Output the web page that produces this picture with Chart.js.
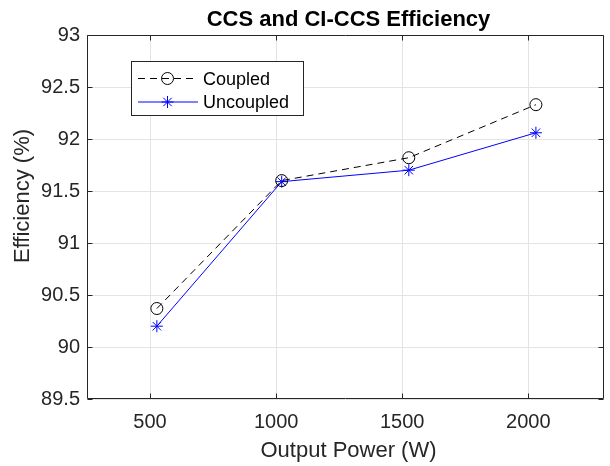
<!DOCTYPE html>
<html><head><meta charset="utf-8">
<script src="https://cdn.jsdelivr.net/npm/chart.js@4/dist/chart.umd.min.js"></script>
<style>html,body{margin:0;padding:0;background:#fff;overflow:hidden}#wrap{width:610px;height:466px;overflow:hidden}</style>
</head><body><div id="wrap"><canvas id="c" width="611" height="466"></canvas></div>
<script>
const xPower = [527, 1022, 1526, 2030];
const coupled = [90.37, 91.60, 91.82, 92.33];
const uncoupled = [90.20, 91.59, 91.70, 92.06];
const xTicks = [500, 1000, 1500, 2000];
const yTicks = [89.5, 90, 90.5, 91, 91.5, 92, 92.5, 93];
const seriesNames = ['Coupled', 'Uncoupled'];
const titleText = 'CCS and CI-CCS Efficiency';
const xTitle = 'Output Power (W)';
const yTitle = 'Efficiency (%)';

const FONT = '"Liberation Sans", Arial, Helvetica, sans-serif';
const AXIS = '#262626';

function drawCircle(ctx, x, y, r, color) {
  ctx.save(); ctx.setLineDash([]); ctx.strokeStyle = color; ctx.lineWidth = 1;
  ctx.beginPath(); ctx.arc(x, y, r, 0, Math.PI * 2); ctx.stroke(); ctx.restore();
}
function drawStar(ctx, x, y, r, color) {
  ctx.save(); ctx.setLineDash([]); ctx.strokeStyle = color; ctx.lineWidth = 1;
  ctx.beginPath();
  for (let k = 0; k < 4; k++) {
    const a = k * Math.PI / 4;
    ctx.moveTo(x - r * Math.cos(a), y - r * Math.sin(a));
    ctx.lineTo(x + r * Math.cos(a), y + r * Math.sin(a));
  }
  ctx.stroke(); ctx.restore();
}

const matlabPlugin = {
  id: 'matlab',
  afterDraw(chart) {
    const ctx = chart.ctx, ca = chart.chartArea;
    const xs = chart.scales.x, ys = chart.scales.y;
    ctx.save();
    ctx.strokeStyle = AXIS; ctx.lineWidth = 1; ctx.setLineDash([]);
    const L = Math.round(ca.left) + 0.5, R = Math.round(ca.right) - 0.5;
    const T = Math.round(ca.top) + 0.5, B = Math.round(ca.bottom) - 0.5;
    ctx.beginPath();
    ctx.moveTo(L, T); ctx.lineTo(R, T); ctx.lineTo(R, B); ctx.lineTo(L, B); ctx.closePath();
    ctx.stroke();
    const tl = 5;
    ctx.beginPath();
    xTicks.forEach(v => {
      const px = Math.round(xs.getPixelForValue(v)) + 0.5;
      ctx.moveTo(px, B); ctx.lineTo(px, B - tl);
      ctx.moveTo(px, T); ctx.lineTo(px, T + tl);
    });
    yTicks.forEach(v => {
      const py = Math.round(ys.getPixelForValue(v)) + 0.5;
      ctx.moveTo(L, py); ctx.lineTo(L + tl, py);
      ctx.moveTo(R, py); ctx.lineTo(R - tl, py);
    });
    ctx.stroke();

    // legend
    const lx = 131.5, ly = 61.5, lw = 172, lh = 54;
    ctx.fillStyle = '#fff'; ctx.fillRect(lx, ly, lw, lh);
    ctx.strokeStyle = AXIS; ctx.strokeRect(lx, ly, lw, lh);
    const rows = [78.5, 102];
    chart.data.datasets.forEach((ds, i) => {
      const y = rows[i];
      ctx.save();
      ctx.strokeStyle = ds.borderColor; ctx.lineWidth = 1;
      ctx.setLineDash(ds.borderDash || []);
      ctx.beginPath(); ctx.moveTo(138, y); ctx.lineTo(198, y); ctx.stroke();
      ctx.restore();
      if (ds.pointStyle === 'circle') drawCircle(ctx, 167.5, y, 6, ds.borderColor);
      else drawStar(ctx, 167.5, y, 6, ds.borderColor);
      ctx.fillStyle = '#000'; ctx.font = '18px ' + FONT;
      ctx.textAlign = 'left'; ctx.textBaseline = 'alphabetic';
      ctx.fillText(ds.label, 203, y + 6);
    });

    // titles
    const cx = (ca.left + 610) / 2;
    ctx.fillStyle = '#000'; ctx.textAlign = 'center'; ctx.textBaseline = 'alphabetic';
    ctx.font = 'bold 22px ' + FONT;
    ctx.fillText(titleText, cx, 26);
    ctx.fillStyle = AXIS;
    ctx.font = '22px ' + FONT;
    ctx.fillText(xTitle, cx, 456.5);
    ctx.save();
    ctx.translate(29, 196);
    ctx.rotate(-Math.PI / 2);
    ctx.fillText(yTitle, 0, 0);
    ctx.restore();
    ctx.restore();
  }
};

new Chart(document.getElementById('c'), {
  type: 'line',
  data: {
    datasets: [
      {
        label: seriesNames[0],
        data: xPower.map((x, i) => ({ x, y: coupled[i] })),
        borderColor: '#000000', borderWidth: 1, borderDash: [7, 5],
        pointStyle: 'circle', pointRadius: 6, pointBorderWidth: 1,
        pointBorderColor: '#000000', pointBackgroundColor: 'rgba(0,0,0,0)',
        fill: false, tension: 0
      },
      {
        label: seriesNames[1],
        data: xPower.map((x, i) => ({ x, y: uncoupled[i] })),
        borderColor: '#0000ff', borderWidth: 1,
        pointStyle: 'star', pointRadius: 6, pointBorderWidth: 1,
        pointBorderColor: '#0000ff', pointBackgroundColor: 'rgba(0,0,0,0)',
        fill: false, tension: 0
      }
    ]
  },
  options: {
    responsive: false, animation: false, devicePixelRatio: 1,
    layout: { padding: { left: 0, right: 0, top: 35, bottom: 0 } },
    plugins: { legend: { display: false }, title: { display: false }, tooltip: { enabled: false } },
    scales: {
      x: {
        type: 'linear', min: 250, max: 2300,
        afterBuildTicks: s => { s.ticks = xTicks.map(v => ({ value: v })); },
        afterFit: s => { s.height = 67; },
        grid: { color: '#e3e3e3', lineWidth: 1, drawTicks: false },
        border: { display: false },
        ticks: { color: AXIS, font: { family: FONT, size: 20 }, padding: 11, maxRotation: 0,
                 callback: v => String(v) }
      },
      y: {
        type: 'linear', min: 89.5, max: 93,
        afterBuildTicks: s => { s.ticks = yTicks.map(v => ({ value: v })); },
        afterFit: s => { s.width = 87; },
        grid: { color: '#e3e3e3', lineWidth: 1, drawTicks: false },
        border: { display: false },
        ticks: { color: AXIS, font: { family: FONT, size: 20 }, padding: 7,
                 callback: v => String(v) }
      }
    }
  },
  plugins: [matlabPlugin]
});
</script></body></html>
